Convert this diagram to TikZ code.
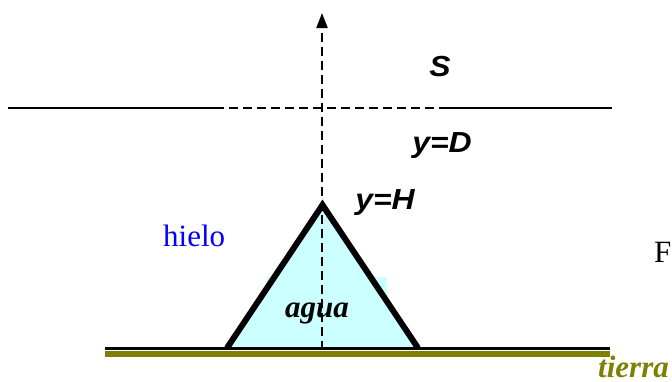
\documentclass[tikz,border=0pt]{standalone}
\usepackage{fontspec}
\setmainfont{Liberation Serif}
\setsansfont{Liberation Sans}
\usetikzlibrary{arrows.meta}
\definecolor{aguacol}{HTML}{CCFFFF}
\definecolor{tierracol}{HTML}{808000}
\tikzset{
  axisline/.style={line width=2.3pt, dash pattern=on 9pt off 5pt},
  surface/.style={line width=2pt},
  sanslab/.style={font=\fontsize{29}{30}\selectfont\sffamily\bfseries\itshape, inner sep=0pt, anchor=base},
  seriflab/.style={font=\fontsize{31}{32}\selectfont, inner sep=0pt, anchor=base west},
}
\begin{document}
\begin{tikzpicture}[x=1pt,y=-1pt]
\useasboundingbox (0,0) rectangle (672,381);
% water fill (with its rectangular patch)
\fill[aguacol] (267,277) rectangle (387,348);
\coordinate (apex) at (322.5,205);
\coordinate (bl) at (227,348);
\coordinate (br) at (418,348);
\fill[aguacol] (bl) -- (apex) -- (br) -- cycle;
% ground
\coordinate (gl) at (105,348.5);
\coordinate (gr) at (610,348.5);
\fill[tierracol] (105,350.5) rectangle (610,356.5);
\draw[line width=2.5pt] (gl) -- (gr);
% surface line y=D
\coordinate (sl) at (8,108);
\coordinate (sd1) at (215,108);
\coordinate (sd2) at (440,108);
\coordinate (sr) at (612,108);
\draw[surface] (sl) -- (sd1);
\draw[surface, dash pattern=on 9pt off 5pt] (sd1) -- (sd2);
\draw[surface] (sd2) -- (sr);
% vertical axis
\coordinate (ax0) at (322,350);
\coordinate (ax1) at (322,13);
\draw[axisline, -{Triangle[length=15pt,width=11pt]}] (ax0) -- (ax1);
% triangle outline
\draw[line width=6pt, line join=miter] (bl) -- (apex) -- (br);
% labels
\node[sanslab] (S) at (440,76) {\scalebox{1.1}[1]{S}};
\node[sanslab] (yD) at (442,152) {\scalebox{1.1}[1]{y=D}};
\node[sanslab] (yH) at (385,209) {\scalebox{1.1}[1]{y=H}};
\node[seriflab, text=blue] (hielo) at (163,246) {hielo};
\node[seriflab, font=\fontsize{31}{32}\selectfont\bfseries\itshape] (agua) at (285,317) {agua};
\node[seriflab] (F) at (654,262) {F};
\node[seriflab, text=tierracol, font=\fontsize{31}{32}\selectfont\bfseries\itshape] (tierra) at (598,377) {tierra};
\end{tikzpicture}
\end{document}
